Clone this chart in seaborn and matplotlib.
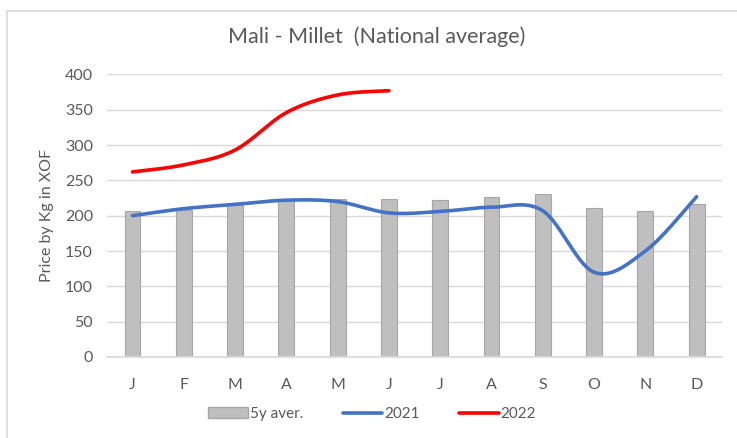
import numpy as np
import pandas as pd
import matplotlib
matplotlib.use("Agg")
import matplotlib.pyplot as plt
from matplotlib.lines import Line2D
from matplotlib.patches import Patch
import seaborn as sns

# Data
months = ["Jan", "Feb", "Mar", "Apr", "May", "Jun",
          "Jul", "Aug", "Sep", "Oct", "Nov", "Dec"]
month_labels = ["J", "F", "M", "A", "M", "J", "J", "A", "S", "O", "N", "D"]
avg_5y = [206, 208, 215, 222, 223, 223, 222, 226, 231, 211, 206, 216]
price_2021 = [200, 210, 216, 222, 220, 204, 206, 212, 207, 120, 150, 227]
price_2022 = [262, 272, 293, 346, 371, 377]

TEXT = "#595959"


def smooth(y, n=30):
    '''Excel-style smoothed line (Bezier through the points).'''
    x = np.arange(len(y), dtype=float)
    y = np.asarray(y, dtype=float)
    pts = np.column_stack([x, y])
    out = []
    for i in range(len(pts) - 1):
        p0 = pts[max(i - 1, 0)]
        p1 = pts[i]
        p2 = pts[i + 1]
        p3 = pts[min(i + 2, len(pts) - 1)]
        c1 = p1 + (p2 - p0) / 6
        c2 = p2 - (p3 - p1) / 6
        t = np.linspace(0, 1, n)[:, None]
        seg = ((1 - t) ** 3) * p1 + 3 * ((1 - t) ** 2) * t * c1 \
            + 3 * (1 - t) * t ** 2 * c2 + t ** 3 * p2
        out.append(seg if i == 0 else seg[1:])
    seg = np.vstack(out)
    return seg[:, 0], seg[:, 1]


sns.set_theme(style="white")
plt.rcParams['font.family'] = ['Lato', 'DejaVu Sans']

df = pd.DataFrame({"month": months, "avg": avg_5y})

fig, ax = plt.subplots(figsize=(7.37, 4.38), dpi=100)
fig.subplots_adjust(left=0.145, right=0.98, top=0.83, bottom=0.185)

ax.yaxis.grid(True, color="#D9D9D9", linewidth=1)
ax.set_axisbelow(True)

sns.barplot(data=df, x="month", y="avg", order=months, width=0.31,
            color="#BFBFBF", edgecolor="#A6A6A6", linewidth=0.8,
            saturation=1, ax=ax)

x21, y21 = smooth(price_2021)
x22, y22 = smooth(price_2022)
ax.plot(x21, y21, color="#4472C4", linewidth=2.6, solid_capstyle="round")
ax.plot(x22, y22, color="#FF0000", linewidth=2.6, solid_capstyle="round")

ax.set_xlim(-0.5, len(months) - 0.5)
ax.set_ylim(0, 400)
ax.set_yticks(range(0, 401, 50))
ax.set_xticks(range(len(months)))
ax.set_xticklabels(month_labels)
ax.tick_params(axis="both", colors=TEXT, labelsize=11.5, length=0)
ax.tick_params(axis="x", pad=15)
ax.tick_params(axis="y", pad=10)
ax.set_xlabel("")
ax.set_ylabel("Price by Kg in XOF", color=TEXT, fontsize=11.5, labelpad=8)

for side in ["top", "right", "left"]:
    ax.spines[side].set_visible(False)
ax.spines["bottom"].set_color("#D9D9D9")

fig.suptitle("Mali - Millet  (National average)", color=TEXT,
             fontsize=15.5, x=0.511, y=0.94)

handles = [
    Patch(facecolor="#BFBFBF", edgecolor="#A6A6A6", label="5y aver."),
    Line2D([0], [0], color="#4472C4", linewidth=2.6, label="2021"),
    Line2D([0], [0], color="#FF0000", linewidth=2.6, label="2022"),
]
leg = fig.legend(handles=handles, loc="center", bbox_to_anchor=(0.505, 0.055),
                 ncol=3, frameon=False, fontsize=11, handlelength=2.6,
                 handletextpad=0.1, columnspacing=2.6)
for t in leg.get_texts():
    t.set_color(TEXT)

# thin frame lines at the left and top of the chart area
fig.add_artist(Line2D([0.0095, 0.0095], [0, 0.975], color="#D9D9D9",
                      linewidth=1.2, transform=fig.transFigure))
fig.add_artist(Line2D([0.0095, 1], [0.975, 0.975], color="#D9D9D9",
                      linewidth=1.2, transform=fig.transFigure))

fig.savefig("out.png", dpi=100)
